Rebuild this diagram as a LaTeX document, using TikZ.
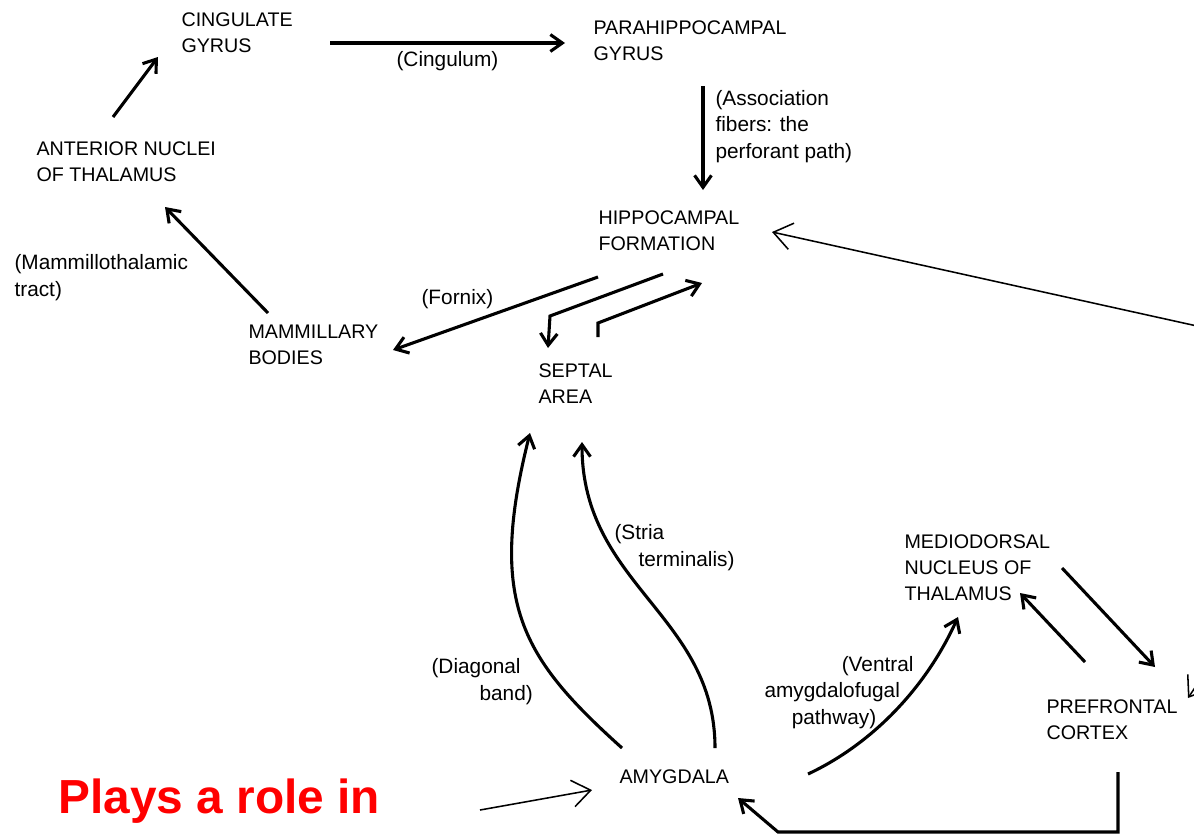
\documentclass[tikz,border=0pt]{standalone}
\usepackage{fontspec}
\setmainfont{Liberation Sans}
\usetikzlibrary{arrows.meta}

\begin{document}
\begin{tikzpicture}[x=0.025cm, y=-0.025cm,
  >={Straight Barb[length=8.5pt,width=12pt]}, line width=2.2pt,
  region/.style={anchor=base west, align=left, inner sep=0pt,
    font=\fontsize{14}{18.4}\selectfont},
  pathname/.style={region, font=\fontsize{14.8}{18.6}\selectfont},
  tract/.style={->, line width=2.2pt},
  note/.style={-{Straight Barb[length=13pt,width=19pt]}, line width=1.1pt}]
  \useasboundingbox (0,0) rectangle (1194,836);
  % regiones (ancla en la linea de base de la ultima linea)
  \node[region] (cingulate) at (180,52) {CINGULATE\\GYRUS};
  \node[region] (parahip) at (592,60) {PARAHIPPOCAMPAL\\GYRUS};
  \node[region] (hippo) at (597,250) {HIPPOCAMPAL\\FORMATION};
  \node[region] (anterior) at (35,181) {ANTERIOR NUCLEI\\OF THALAMUS};
  \node[region] (mammillary) at (247,364) {MAMMILLARY\\BODIES};
  \node[region] (septal) at (537,403) {SEPTAL\\AREA};
  \node[region] (amygdala) at (618,783) {AMYGDALA};
  \node[region] (mediodorsal) at (903,600) {MEDIODORSAL\\NUCLEUS OF\\THALAMUS};
  \node[region] (prefrontal) at (1045,739) {PREFRONTAL\\CORTEX};
  % nombres de las vias
  \node[pathname] (cingulum) at (395,66) {(Cingulum)};
  \node[pathname] (assoc) at (714,158) {(Association\\fibers: the\\perforant path)};
  \node[pathname] (mtt) at (13,296) {(Mammillothalamic\\tract)};
  \node[pathname] (fornix) at (420,304) {(Fornix)};
  \node[pathname] (diagonal) at (430,700) {(Diagonal\\\hspace*{1.2cm}band)};
  \node[pathname] (stria) at (613,566) {(Stria\\\hspace*{0.6cm}terminalis)};
  \node[pathname] (ventral) at (763,724) {\hspace*{1.93cm}(Ventral\\amygdalofugal\\\hspace*{0.68cm}pathway)};
  % circuito de Papez
  \draw[tract] ([shift={(78,-64)}]anterior.base west) -- ([shift={(-22,5)}]cingulate.base west);
  \draw[tract] ([shift={(150,-9)}]cingulate.base west) -- ([shift={(-27,-17)}]parahip.base west);
  \draw[tract] ([shift={(111,26)}]parahip.base west) -- ([shift={(106,-60)}]hippo.base west);
  \draw[tract] ([shift={(1,27)}]hippo.base west) -- ([shift={(146,-14)}]mammillary.base west);
  \draw[tract] ([shift={(21,-51)}]mammillary.base west) -- ([shift={(130,26)}]anterior.base west);
  % hipocampo y area septal
  \draw[tract] ([shift={(66,24)}]hippo.base west) -- ([shift={(13,-87)}]septal.base west)
    -- ([shift={(11,-55)}]septal.base west);
  \draw[tract] ([shift={(61,-66)}]septal.base west) -- ([shift={(61,-80)}]septal.base west)
    -- ([shift={(105,33)}]hippo.base west);
  % amigdala
  \draw[tract] ([shift={(4,-35)}]amygdala.base west) .. controls (522,658) and (487,603)
    .. ([shift={(-7,30)}]septal.base west);
  \draw[tract] ([shift={(97,-35)}]amygdala.base west) .. controls (715,615) and (582,585)
    .. ([shift={(45,39)}]septal.base west);
  \draw[tract] ([shift={(190,-9)}]amygdala.base west) .. controls (870,745) and (925,690)
    .. ([shift={(55,17)}]mediodorsal.base west);
  \draw[tract] ([shift={(159,-32)}]mediodorsal.base west) -- ([shift={(110,-72)}]prefrontal.base west);
  \draw[tract] ([shift={(40,-77)}]prefrontal.base west) -- ([shift={(117,-7)}]mediodorsal.base west);
  \draw[tract] ([shift={(73,33)}]prefrontal.base west) -- ([shift={(73,93)}]prefrontal.base west)
    -- ([shift={(160,49)}]amygdala.base west) -- ([shift={(120,15)}]amygdala.base west);
  % anotaciones
  \node[anchor=base west, inner sep=0pt, text=red,
    font=\fontsize{34}{40}\selectfont\bfseries] (role) at (57,813) {Plays a role in};
  \coordinate (hipIn) at (1197,326);
  \coordinate (amyIn) at (480,810);
  \coordinate (pfcIn) at (1198,683);
  \draw[note] (hipIn) -- ([shift={(175,-18)}]hippo.base west);
  \draw[note] (amyIn) -- ([shift={(-26,7)}]amygdala.base west);
  \draw[note] (pfcIn) -- ([shift={(143,-41)}]prefrontal.base west);
\end{tikzpicture}
\end{document}
